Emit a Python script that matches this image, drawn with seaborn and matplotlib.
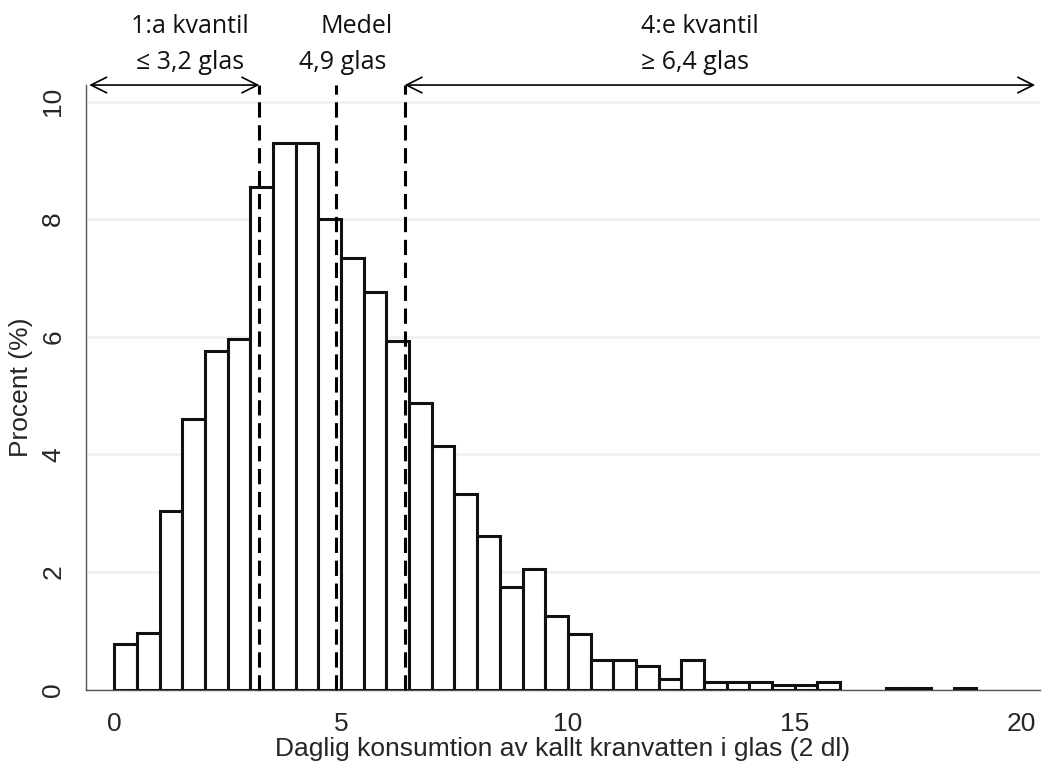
import numpy as np
import pandas as pd
import matplotlib
matplotlib.use("Agg")
import matplotlib.pyplot as plt
import seaborn as sns

# Histogram bins (left edge, width 0.5 glas) and share of respondents in %
bin_start = [0.0, 0.5, 1.0, 1.5, 2.0, 2.5, 3.0, 3.5, 4.0, 4.5,
             5.0, 5.5, 6.0, 6.5, 7.0, 7.5, 8.0, 8.5, 9.0, 9.5,
             10.0, 10.5, 11.0, 11.5, 12.0, 12.5, 13.0, 13.5, 14.0, 14.5,
             15.0, 15.5, 17.0, 17.5, 18.5]
procent = [0.77, 0.97, 3.04, 4.60, 5.75, 5.96, 8.55, 9.30, 9.30, 8.00,
           7.34, 6.76, 5.93, 4.87, 4.15, 3.33, 2.61, 1.75, 2.06, 1.25,
           0.94, 0.51, 0.51, 0.40, 0.18, 0.51, 0.125, 0.125, 0.125, 0.085,
           0.085, 0.125, 0.03, 0.03, 0.03]

# Reference lines
kvartil1 = 3.2
medel = 4.9
kvartil4 = 6.4

bin_width = 0.5
df = pd.DataFrame({'glas': np.array(bin_start) + bin_width / 2,
                   'procent': procent})

sns.set_style("white")
plt.rcParams['font.family'] = ['Liberation Sans', 'DejaVu Sans']

fig = plt.figure(figsize=(10.45, 7.64), dpi=100)
ax = fig.add_axes([0.0823, 0.0973, 0.9127, 0.7914])

sns.histplot(data=df, x='glas', weights='procent',
             binwidth=bin_width, binrange=(0, 19),
             color='white', edgecolor='#111111', linewidth=2.2,
             alpha=1, ax=ax, zorder=3)
# empty bins should not draw a line on the axis
for p in list(ax.patches):
    if p.get_height() == 0:
        p.remove()

ax.set_xlim(-0.62, 20.4)
ax.set_ylim(0, 10.28)

ax.set_yticks([0, 2, 4, 6, 8, 10])
ax.set_xticks([0, 5, 10, 15, 20])
ax.yaxis.grid(True, color='#eaf1f2', lw=1.8, zorder=0)
ax.xaxis.grid(False)
ax.set_axisbelow(True)

for s in ['top', 'right']:
    ax.spines[s].set_visible(False)
for s in ['left', 'bottom']:
    ax.spines[s].set_color('#555555')
    ax.spines[s].set_linewidth(1.0)

ax.tick_params(axis='both', direction='out', length=7, width=1,
               color='#555555', labelsize=19, pad=9)
ax.tick_params(axis='y', labelrotation=90, pad=8)
for lab in ax.get_yticklabels():
    lab.set_verticalalignment('center')

ax.set_xlabel('Daglig konsumtion av kallt kranvatten i glas (2 dl)',
              fontsize=19, labelpad=1)
ax.set_ylabel('Procent (%)', fontsize=19, labelpad=6)

# dashed lines for quartiles and mean
for v in [kvartil1, medel, kvartil4]:
    ax.axvline(v, color='black', lw=2.2, ls=(0, (5, 2.5)), zorder=4,
               ymax=1.0, clip_on=False)

# arrows above the plot
top = 10.28
arrow = dict(arrowstyle='<->', lw=1.2, color='black',
             mutation_scale=28, shrinkA=0, shrinkB=0)
ax.annotate('', xy=(kvartil1, top), xytext=(-0.55, top),
            arrowprops=arrow, annotation_clip=False)
ax.annotate('', xy=(kvartil4, top), xytext=(20.3, top),
            arrowprops=arrow, annotation_clip=False)

txt = dict(fontsize=18, family=['Open Sans', 'DejaVu Sans'], ha='center',
           va='center', clip_on=False, color='#111111')
ax.text(1.67, 11.27, '1:a kvantil', **txt)
ax.text(1.67, 10.66, '≤ 3,2 glas', **txt)
ax.text(5.35, 11.27, 'Medel', **txt)
ax.text(5.04, 10.66, '4,9 glas', **txt)
ax.text(12.9, 11.27, '4:e kvantil', **txt)
ax.text(12.8, 10.66, '≥ 6,4 glas', **txt)

fig.savefig('out.png', dpi=100)
